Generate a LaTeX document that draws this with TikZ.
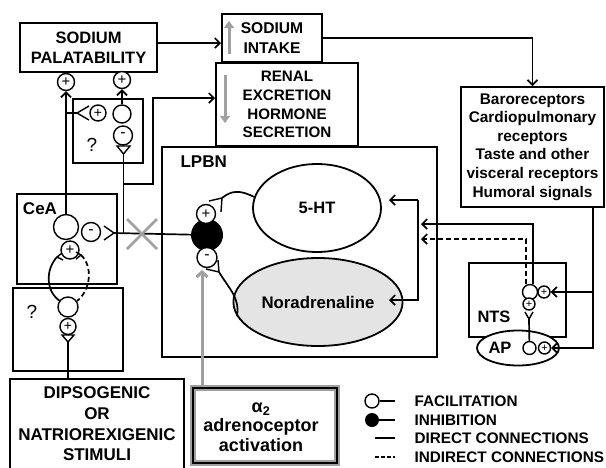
\documentclass[tikz,border=0pt]{standalone}
\usepackage{fontspec}
\setmainfont{Liberation Sans}
\usetikzlibrary{arrows.meta, shapes.geometric}
\definecolor{arrowGray}{RGB}{160,160,160}
\definecolor{cellGray}{RGB}{228,228,228}
\newcommand\boxfont[2]{\fontsize{#1}{#2}\selectfont\bfseries}

\begin{document}
\begin{tikzpicture}[x=1pt, y=-1pt,
    box/.style={draw, line width=2pt, inner sep=0pt, align=center},
    cell/.style={circle, draw, line width=1.4pt, fill=white, inner sep=0pt, minimum size=#1},
    signfont/.style={font=\fontsize{#1}{#1}\selectfont},
    link/.style={line width=1.7pt},
    tip/.style={-{Straight Barb[length=5pt, width=10pt]}},
    forkline/.style={line width=1.4pt},
    grayarrow/.style={arrowGray, line width=3pt, -{Triangle[length=7pt, width=10pt]}}]
    \useasboundingbox (0,0) rectangle (606,467);

    % boxes
    \node[box, minimum width=137pt, minimum height=49pt, font=\boxfont{16.5}{20}] (pal) at (88.5,47.5) {SODIUM\\PALATABILITY};
    \node[box, minimum width=142pt, minimum height=83pt, font=\boxfont{15.2}{18.7}] (renal) at (287,104.5) {RENAL\\EXCRETION\\HORMONE\\SECRETION};
    \node[box, fill=white, minimum width=100pt, minimum height=48pt, font=\boxfont{15.6}{20}] (intake) at (272,38) {SODIUM\\INTAKE};
    \node[box, minimum width=143pt, minimum height=120pt, font=\boxfont{15.4}{18.6}] (baro) at (532.5,147) {Baroreceptors\\Cardiopulmonary\\receptors\\Taste and other\\visceral receptors\\Humoral signals};
    \node[box, minimum width=275pt, minimum height=210pt] (lpbn) at (299.5,252) {};
    \node[box, minimum width=70pt, minimum height=64pt] (qUp) at (108,131) {};
    \node[box, minimum width=100pt, minimum height=90pt] (cea) at (67,239) {};
    \node[box, minimum width=110pt, minimum height=83pt] (qLow) at (68,329.5) {};
    \node[box, minimum width=174pt, minimum height=90pt, font=\boxfont{17}{20.7}] (dips) at (97,424) {DIPSOGENIC\\OR\\NATRIOREXIGENIC\\STIMULI};
    \node[box, minimum width=144pt, minimum height=75pt, preaction={draw=arrowGray, line width=5.5pt}] (alpha) at (265,425.5) {};
    \node[font=\boxfont{18}{19.5}, align=center] (alphaText) at (261,427) {α\textsubscript{2}\\adrenoceptor\\activation};
    \node[box, minimum width=97pt, minimum height=74pt] (nts) at (517.5,300) {};

    % labels
    \node[font=\boxfont{17}{20}, anchor=west] (lpbnLabel) at (177,162) {LPBN};
    \node[font=\boxfont{17}{20}] (ceaLabel) at (40,209) {CeA};
    \node[font=\boxfont{16.5}{20}] (ntsLabel) at (494,317) {NTS};
    \node[font=\fontsize{19}{20}\selectfont] (qUpLabel) at (92,145) {?};
    \node[font=\fontsize{19}{20}\selectfont] (qLowLabel) at (32,312) {?};

    % gray arrows
    \draw[grayarrow] (229,54) -- (229,21);
    \draw[grayarrow] (225,75) -- (225,123);

    % LPBN
    \node[ellipse, draw, line width=1.8pt, minimum width=128pt, minimum height=88pt, font=\boxfont{16.5}{20}] (ht) at (317,208) {5-HT};
    \node[ellipse, draw, fill=cellGray, line width=1.8pt, minimum width=128pt, minimum height=88pt, font=\boxfont{16.8}{20}] (na) at (318,302) {Noradrenaline};
    \coordinate (htIn) at (389,200);
    \coordinate (naIn) at (389,300);
    \coordinate (colSolid) at (421,224);
    \coordinate (colDash) at (421,239);
    \draw[link, tip] (418,200) -- (htIn);
    \draw[link, tip] (418,200) -- (418,300) -- (naIn);
    \node[circle, fill=black, minimum size=32pt, inner sep=0pt] (inh) at (207,235) {};
    \node[cell=19pt, signfont=15] (lpP) at (206,214) {+};
    \node[cell=20pt, signfont=16] (lpM) at (207,257.5) {-};
    \draw[link] (ht.170) .. controls (240,190) and (232,190) .. (222,198);
    \draw[forkline] (209,201) -- (222,198) -- (221,212);
    \draw[link] (na.190) .. controls (240,298) and (230,290) .. (219,272);
    \draw[forkline] (206,269) -- (219,272) -- (218,260);

    % alpha2
    \coordinate (alphaTip) at (202,270);
    \draw[arrowGray, line width=3pt, -{Straight Barb[length=5pt, width=11pt]}] (alpha.north -| alphaTip) -- (alphaTip);

    % CeA
    \node[cell=25pt] (ceaBig) at (66,227) {};
    \node[cell=19pt, signfont=16] (ceaM) at (91,232) {-};
    \node[cell=18pt, signfont=15] (ceaP) at (70,250) {+};
    \coordinate (ceaFork) at (114,233);
    \draw[forkline] (104,226) -- (ceaFork) -- (104,240);
    \draw[link] (ceaFork) -- (inh);
    \draw[arrowGray, line width=2.5pt] (127,219) -- (157,249) (127,249) -- (157,219);

    % upper ? box
    \node[cell=18pt] (qBig) at (122,114) {};
    \node[cell=19pt, signfont=16] (qM) at (123,135.5) {-};
    \node[cell=16pt, signfont=14] (qP) at (98,113) {+};
    \node[cell=17pt, signfont=15] (qTop) at (122,80) {+};
    \node[cell=17pt, signfont=15] (palP) at (66,82) {+};
    \coordinate (qTri) at (123.5,154);
    \draw[forkline] (117,146) -- (130,146) -- (qTri) -- cycle;
    \draw[link, tip] (qBig) -- (qTop);
    \draw[link, tip] (ceaBig) -- (palP);
    \coordinate (qFork) at (77,113);
    \draw[link] (66,113) -- (qFork);
    \draw[forkline] (89,106) -- (qFork) -- (89,120);
    \draw[link] (qTri) -- (qTri |- ceaFork);
    \draw[link, tip] (qTri |- 0,184) -- (153,184) |- (renal.west |- 0,98);

    % CeA loop and lower ? box
    \node[cell=20pt] (qLowC) at (68,307) {};
    \node[cell=16pt, signfont=14] (qLowP) at (68,326.5) {+};
    \coordinate (qLowTri) at (68,342);
    \draw[forkline] (62,335) -- (74,335) -- (qLowTri) -- cycle;
    \draw[link] (qLowTri) -- (qLowTri |- dips.north);
    \draw[link] (57,257) .. controls (45,270) and (46,292) .. (60,301);
    \draw[forkline] (62,253) -- (57,257) -- (63,260);
    \draw[link, dash pattern=on 5pt off 3pt] (81,255) .. controls (93,266) and (91,290) .. (77,301);
    \draw[forkline] (76,252) -- (81,255) -- (76,259);

    % top connections
    \draw[link, tip] (pal.east |- 0,43) -- (intake.west |- 0,43);
    \draw[link, tip] (intake.east) -| (baro.north);

    % NTS and AP
    \node[ellipse, draw, fill=white, line width=1.8pt, minimum width=82pt, minimum height=35pt] (ap) at (518,348) {};
    \node[font=\boxfont{16.5}{20}] (apLabel) at (500,348) {AP};
    \node[cell=13pt] (apC) at (529.5,348) {};
    \node[cell=12pt, signfont=11] (apP) at (544.5,348) {+};
    \node[cell=15pt] (ntsC) at (530,292) {};
    \node[cell=12pt, signfont=11] (ntsP) at (544,292) {+};
    \node[cell=12pt, signfont=11] (ntsQ) at (529,304) {+};
    \coordinate (ntsFork) at (529,319);
    \draw[forkline] (525,312) -- (ntsFork) -- (533,312);
    \draw[link] (ntsFork) -- (apC);
    \draw[link, tip] ([xshift=3pt]ntsC.north) |- (colSolid);
    \draw[link, tip, dash pattern=on 5pt off 3pt] ([xshift=-4pt]ntsC.north) |- (colDash);
    \draw[link, tip] (baro.south -| 593,0) |- (apP);
    \draw[link, tip] (593,292) -- (ntsP);

    % legend
    \node[cell=14pt] (lgFac) at (372,401) {};
    \node[circle, fill=black, minimum size=14pt, inner sep=0pt] (lgInh) at (372,420) {};
    \draw[link] (lgFac) -- (395,401);
    \draw[link] (lgInh) -- (395,420);
    \draw[link] (375,438) -- (395,438);
    \draw[link, dash pattern=on 4pt off 2pt] (375,457) -- (395,457);
    \node[font=\boxfont{15.3}{18}, anchor=west] (lgFacText) at (411,401) {FACILITATION};
    \node[font=\boxfont{15.3}{18}, anchor=west] (lgInhText) at (411,420) {INHIBITION};
    \node[font=\boxfont{15.3}{18}, anchor=west] (lgDirText) at (411,438) {DIRECT CONNECTIONS};
    \node[font=\boxfont{15.3}{18}, anchor=west] (lgIndText) at (411,457) {INDIRECT CONNECTIONS};
\end{tikzpicture}
\end{document}
